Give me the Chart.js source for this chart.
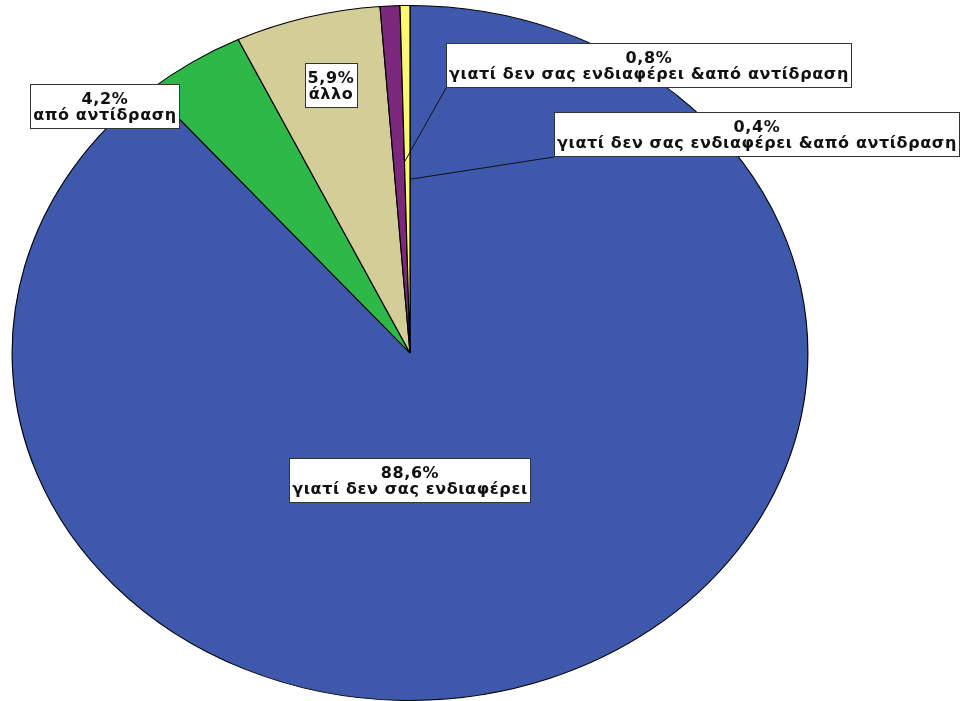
<!DOCTYPE html>
<html>
<head>
<meta charset="utf-8">
<script src="https://cdn.jsdelivr.net/npm/chart.js@4"></script>
<style>
    html, body { margin: 0; padding: 0; background: #fff; }
    #wrap { width: 962px; height: 701px; position: relative; }
</style>
</head>
<body>
<div id="wrap"><canvas id="pieChart"></canvas></div>
<script>
const categories = [
    'γιατί δεν σας ενδιαφέρει',
    'από αντίδραση',
    'άλλο',
    'γιατί δεν σας ενδιαφέρει &από αντίδραση',
    'γιατί δεν σας ενδιαφέρει &από αντίδραση'
];
const percents = [88.6, 4.2, 5.9, 0.8, 0.4];
const sliceColors = ['#3E58AC', '#2EB848', '#D3CE97', '#7C287D', '#FBF873'];

// where each label box sits (centre) and, for the small slices, where its leader line ends
const labelCenters = [[410, 480], [105, 106], [331, 85], [649, 65], [757, 134]];
const leaderFrac = [null, null, null, 0.55, 0.5];

const stretchX = 1.145; // the pie is drawn as an ellipse
const labelFont = 'bold 16px "DejaVu Sans"';

function pctText(v) {
    return v.toFixed(1).replace('.', ',') + '%';
}

function drawLabels(chart) {
    const ctx = chart.ctx;
    const meta = chart.getDatasetMeta(0);
    ctx.save();
    ctx.font = labelFont;
    ctx.letterSpacing = '0.6px';
    ctx.textAlign = 'center';
    ctx.textBaseline = 'alphabetic';

    percents.forEach((v, i) => {
        const lines = [pctText(v), categories[i]];
        const w = Math.ceil(Math.max(...lines.map(l => ctx.measureText(l).width))) + 6;
        const h = 45;
        const [cx, cy] = labelCenters[i];
        const left = Math.round(cx - w / 2), top = Math.round(cy - h / 2);

        // leader line
        if (leaderFrac[i] !== null) {
            const arc = meta.data[i];
            const a = arc.endAngle;
            const r = arc.outerRadius * leaderFrac[i];
            ctx.strokeStyle = '#111';
            ctx.lineWidth = 1;
            ctx.beginPath();
            ctx.moveTo(left, top + h);
            ctx.lineTo(arc.x + Math.cos(a) * r * stretchX, arc.y + Math.sin(a) * r);
            ctx.stroke();
        }

        ctx.fillStyle = '#fff';
        ctx.fillRect(left, top, w, h);
        ctx.strokeStyle = '#333';
        ctx.lineWidth = 1;
        ctx.strokeRect(left + 0.5, top + 0.5, w - 1, h - 1);

        ctx.fillStyle = '#111';
        ctx.fillText(lines[0], cx, top + 20);
        ctx.fillText(lines[1], cx, top + 36);
    });
    ctx.restore();
}

const ellipsePlugin = {
    id: 'ellipse',
    beforeDatasetsDraw(chart) {
        const ctx = chart.ctx;
        const arc = chart.getDatasetMeta(0).data[0];
        ctx.save();
        ctx.translate(arc.x, arc.y);
        ctx.scale(stretchX, 1);
        ctx.translate(-arc.x, -arc.y);
    },
    afterDatasetsDraw(chart) {
        chart.ctx.restore();
        drawLabels(chart);
    }
};

new Chart(document.getElementById('pieChart'), {
    type: 'pie',
    data: {
        labels: categories,
        datasets: [{
            data: percents,
            backgroundColor: sliceColors,
            borderColor: '#000',
            borderWidth: 1,
            clip: false
        }]
    },
    options: {
        responsive: true,
        maintainAspectRatio: false,
        animation: false,
        events: [],
        layout: { padding: { top: 5, bottom: 0, left: 0, right: 142 } },
        plugins: {
            legend: { display: false },
            tooltip: { enabled: false }
        }
    },
    plugins: [ellipsePlugin]
});
</script>
</body>
</html>
